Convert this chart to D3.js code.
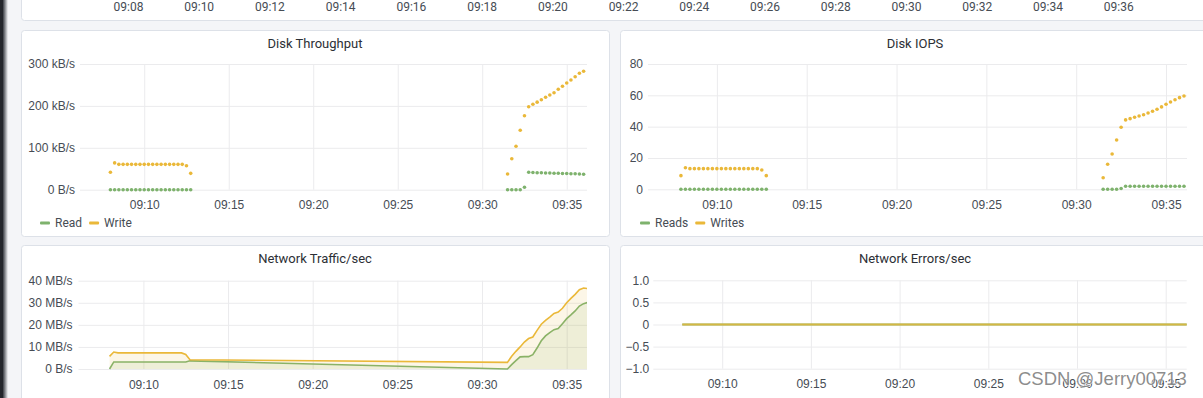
<!DOCTYPE html>
<html>
<head>
<meta charset="utf-8">
<script src="https://cdn.jsdelivr.net/npm/d3@7"></script>
<style>
    body { margin: 0; background: #f4f5f8; overflow: hidden; }
    svg { display: block; font-family: Roboto, 'Noto Sans', sans-serif; }
</style>
</head>
<body>
<div id="chart"></div>
<script>
'use strict';

// 上部パネルの時刻ラベル
const topTicks = ['09:08', '09:10', '09:12', '09:14', '09:16', '09:18', '09:20', '09:22',
    '09:24', '09:26', '09:28', '09:30', '09:32', '09:34', '09:36'];

// 15秒ごとのサンプル時刻
const earlyTimes = ['09:08:00', '09:08:15', '09:08:30', '09:08:45', '09:09:00', '09:09:15',
    '09:09:30', '09:09:45', '09:10:00', '09:10:15', '09:10:30', '09:10:45', '09:11:00',
    '09:11:15', '09:11:30', '09:11:45', '09:12:00', '09:12:15', '09:12:30', '09:12:45'];
const lateTimes = ['09:31:30', '09:31:45', '09:32:00', '09:32:15', '09:32:30', '09:32:45',
    '09:33:00', '09:33:15', '09:33:30', '09:33:45', '09:34:00', '09:34:15', '09:34:30',
    '09:34:45', '09:35:00', '09:35:15', '09:35:30', '09:35:45', '09:36:00'];
const netLateTimes = lateTimes.concat(['09:36:15']);
const errTimes = ['09:07:45', '09:12:45', '09:31:30', '09:36:15'];

// Disk Throughput (kB/s)
const tpRead = [0, 0, 0, 0, 0, 0, 0, 0, 0, 0, 0, 0, 0, 0, 0, 0, 0, 0, 0, 0,
    0, 0, 0, 0, 6, 41.5, 41, 40.6, 40.3, 40, 39.7, 39.4, 39.1, 38.8, 38.5, 38.2, 37.9, 37.5, 37];
const tpWrite = [41.5, 64, 60.5, 60.5, 60.5, 60.5, 60.5, 60.5, 60.5, 60.5, 60.5, 60.5, 60.5, 60.5,
    60.5, 60.5, 60.5, 60.5, 57, 39,
    37.5, 74, 103.6, 141.8, 176.6, 198, 203.8, 209, 214.8, 220.5, 226, 231.5, 239.6, 246.8,
    254.7, 261.8, 269.7, 277.8, 282.6];

// Disk IOPS
const iopsReads = [0, 0, 0, 0, 0, 0, 0, 0, 0, 0, 0, 0, 0, 0, 0, 0, 0, 0, 0, 0,
    0, 0, 0, 0, 0.5, 1.9, 1.9, 1.9, 1.9, 1.9, 1.9, 1.9, 1.9, 1.9, 1.9, 1.9, 1.9, 1.9, 1.9];
const iopsWrites = [8.7, 13.8, 13.2, 13.2, 13.2, 13.2, 13.2, 13.2, 13.2, 13.2, 13.2, 13.2, 13.2, 13.2,
    13.2, 13.2, 13.2, 13.2, 12.3, 8.7,
    7.4, 16, 22.5, 31.5, 39.6, 44.3, 45.1, 46, 46.8, 47.6, 48.7, 49.8, 51.1, 52.6, 54.3, 55.7,
    57.2, 58.5, 59.6];

// Network Traffic/sec (MB/s)
const netRecv = [0, 3.2, 3.2, 3.2, 3.2, 3.2, 3.2, 3.2, 3.2, 3.2, 3.2, 3.2, 3.2, 3.2, 3.2, 3.2,
    3.2, 3.2, 3.2, 3.7,
    0, 2, 3.8, 5.5, 5.6, 5.6, 6.5, 9.5, 12.8, 15, 16.5, 17.8, 18.3, 20.5, 22.8, 24.5, 26.3,
    28.5, 29.6, 30.2];
const netSent = [5.7, 7.7, 7.3, 7.3, 7.3, 7.3, 7.3, 7.3, 7.3, 7.3, 7.3, 7.3, 7.3, 7.3, 7.3, 7.3,
    7.3, 7.3, 6.6, 4.2,
    3.0, 5.8, 8, 10, 12.2, 13.8, 14.5, 17.5, 20.3, 22, 23.5, 25.2, 25.8, 27.5, 30, 32, 33.8,
    35.9, 36.7, 36.4];

// Network Errors/sec
const errRecv = [0, 0, 0, 0];
const errSent = [0, 0, 0, 0];

// 軸目盛り
const xTicks = ['09:10', '09:15', '09:20', '09:25', '09:30', '09:35'];
const tpTicks = [0, 100, 200, 300];
const iopsTicks = [0, 20, 40, 60, 80];
const netTicks = [0, 10, 20, 30, 40];
const errTicks = [-1, -0.5, 0, 0.5, 1];

const W = 1203;
const H = 398;
const GREEN = '#7eb26d';
const YELLOW = '#eab839';
const TEXT = '#464c54';
const GRID = '#ebebed';

const parseT = d3.timeParse('%H:%M:%S');
const parseHM = d3.timeParse('%H:%M');
const fmtHM = d3.timeFormat('%H:%M');

const svg = d3.select('#chart').append('svg')
    .attr('width', W)
    .attr('height', H);

// 左端の暗い帯
const defs = svg.append('defs');
const grad = defs.append('linearGradient').attr('id', 'edge');
grad.append('stop').attr('offset', 0).attr('stop-color', '#3a3d44');
grad.append('stop').attr('offset', 1).attr('stop-color', '#f4f5f8');
svg.append('rect').attr('width', 3).attr('height', H).attr('fill', '#24262c');
svg.append('rect').attr('x', 3).attr('width', 5).attr('height', H).attr('fill', 'url(#edge)');

const panelRect = (x, y, w, h) => {
    svg.append('rect')
        .attr('x', x + 0.5).attr('y', y + 0.5)
        .attr('width', w).attr('height', h)
        .attr('rx', 3)
        .attr('fill', '#fff')
        .attr('stroke', '#dde1e8');
};

// 上部パネル（時刻のみ）
panelRect(21, -10, 1200, 30);
const topX = d3.scaleTime()
    .domain([parseT('09:04:56'), parseT('09:38:23')])
    .range([20, 1203]);
svg.append('g')
    .selectAll('text')
    .data(topTicks)
    .enter()
    .append('text')
    .attr('x', d => topX(parseHM(d)))
    .attr('y', 7)
    .attr('dy', '0.35em')
    .attr('text-anchor', 'middle')
    .attr('font-size', 12)
    .attr('fill', TEXT)
    .text(d => d);

let clipId = 0;
const drawPanel = opt => {
    panelRect(opt.box[0], opt.box[1], opt.box[2], opt.box[3]);
    const [px0, px1, py0, py1] = opt.plot;
    const x = d3.scaleTime()
        .domain(opt.xDomain.map(parseT))
        .range([px0, px1]);
    const y = d3.scaleLinear()
        .domain(d3.extent(opt.yTicks))
        .range([py1, py0]);

    // タイトル
    svg.append('text')
        .attr('x', opt.box[0] + opt.box[2] / 2 + opt.titleDx)
        .attr('y', opt.titleY)
        .attr('dy', '0.35em')
        .attr('text-anchor', 'middle')
        .attr('font-size', 13)
        .attr('fill', '#2c2f35')
        .text(opt.title);

    // グリッド
    const grid = svg.append('g');
    grid.append('g')
        .attr('transform', `translate(${px0},0)`)
        .call(d3.axisLeft(y).tickValues(opt.yTicks).tickSize(-(px1 - px0)).tickFormat(''))
        .call(g => g.select('.domain').remove())
        .call(g => g.selectAll('line').attr('stroke', GRID));
    grid.append('g')
        .attr('transform', `translate(0,${py1})`)
        .call(d3.axisBottom(x).tickValues(xTicks.map(parseHM)).tickSize(-(py1 - py0)).tickFormat(''))
        .call(g => g.select('.domain').remove())
        .call(g => g.selectAll('line').attr('stroke', GRID));

    // 目盛りラベル
    svg.append('g')
        .attr('transform', `translate(${px0},0)`)
        .call(d3.axisLeft(y).tickValues(opt.yTicks).tickSize(0).tickPadding(opt.yPad).tickFormat(opt.yFormat))
        .call(g => g.select('.domain').remove())
        .call(g => g.selectAll('text').attr('font-size', 12).attr('fill', TEXT).attr('font-family', null));
    svg.append('g')
        .attr('transform', `translate(0,${py1})`)
        .call(d3.axisBottom(x).tickValues(xTicks.map(parseHM)).tickSize(0).tickPadding(opt.xPad).tickFormat(fmtHM))
        .call(g => g.select('.domain').remove())
        .call(g => g.selectAll('text').attr('font-size', 12).attr('fill', TEXT).attr('font-family', null));

    // 描画領域のクリップ
    const cid = 'clip' + (clipId++);
    defs.append('clipPath').attr('id', cid)
        .append('rect')
        .attr('x', px0).attr('y', py0 - 4)
        .attr('width', px1 - px0).attr('height', py1 - py0 + 8);
    const plot = svg.append('g').attr('clip-path', `url(#${cid})`);

    opt.series.forEach(s => {
        const pts = s.times.map((t, i) => ({ t: parseT(t), v: s.values[i] }));
        if (opt.mode === 'points') {
            plot.append('g')
                .selectAll('circle')
                .data(pts)
                .enter()
                .append('circle')
                .attr('cx', d => x(d.t))
                .attr('cy', d => y(d.v))
                .attr('r', 1.8)
                .attr('fill', s.color);
        } else {
            if (opt.fill) {
                plot.append('path')
                    .datum(pts)
                    .attr('d', d3.area().x(d => x(d.t)).y0(y(0)).y1(d => y(d.v)))
                    .attr('fill', s.color)
                    .attr('fill-opacity', 0.12);
            }
            plot.append('path')
                .datum(pts)
                .attr('d', d3.line().x(d => x(d.t)).y(d => y(d.v)))
                .attr('fill', 'none')
                .attr('stroke', s.color)
                .attr('stroke-opacity', s.opacity || 1)
                .attr('stroke-width', opt.lineWidth);
        }
    });

    // 凡例
    if (opt.legendY) {
        let lx = opt.legendX;
        opt.series.forEach(s => {
            svg.append('rect')
                .attr('x', lx).attr('y', opt.legendY - 1.5)
                .attr('width', 10).attr('height', 3)
                .attr('rx', 1)
                .attr('fill', s.color);
            const t = svg.append('text')
                .attr('x', lx + 15)
                .attr('y', opt.legendY)
                .attr('dy', '0.35em')
                .attr('font-size', 12)
                .attr('fill', TEXT)
                .text(s.name);
            lx += 15 + t.node().getComputedTextLength() + 7;
        });
    }
};

drawPanel({
    box: [21, 30, 588, 206],
    title: 'Disk Throughput',
    titleY: 43,
    titleDx: 0,
    plot: [80, 587, 64, 189.7],
    xDomain: ['09:06:12', '09:36:12'],
    yTicks: tpTicks,
    yFormat: d => d === 0 ? '0 B/s' : d + ' kB/s',
    yPad: 5,
    xPad: 11,
    mode: 'points',
    series: [
        { name: 'Read', color: GREEN, times: earlyTimes.concat(lateTimes), values: tpRead },
        { name: 'Write', color: YELLOW, times: earlyTimes.concat(lateTimes), values: tpWrite }
    ],
    legendX: 40,
    legendY: 223
});

drawPanel({
    box: [620, 30, 600, 206],
    title: 'Disk IOPS',
    titleY: 43,
    titleDx: -5,
    plot: [648, 1187, 64, 189.3],
    xDomain: ['09:06:10', '09:36:10'],
    yTicks: iopsTicks,
    yFormat: d => d,
    yPad: 5,
    xPad: 11,
    mode: 'points',
    series: [
        { name: 'Reads', color: GREEN, times: earlyTimes.concat(lateTimes), values: iopsReads },
        { name: 'Writes', color: YELLOW, times: earlyTimes.concat(lateTimes), values: iopsWrites }
    ],
    legendX: 640,
    legendY: 223
});

drawPanel({
    box: [21, 245, 588, 200],
    title: 'Network Traffic/sec',
    titleY: 258.5,
    titleDx: 0,
    plot: [78.5, 587, 280.7, 369],
    xDomain: ['09:06:10', '09:36:12'],
    yTicks: netTicks,
    yFormat: d => d === 0 ? '0 B/s' : d + ' MB/s',
    yPad: 6,
    xPad: 11,
    mode: 'line',
    fill: true,
    lineWidth: 1.6,
    series: [
        { name: 'Receive', color: GREEN, times: earlyTimes.concat(netLateTimes), values: netRecv },
        { name: 'Transmit', color: YELLOW, times: earlyTimes.concat(netLateTimes), values: netSent }
    ]
});

drawPanel({
    box: [620, 245, 600, 200],
    title: 'Network Errors/sec',
    titleY: 258.5,
    titleDx: -5,
    plot: [653.3, 1186.7, 280.3, 368.7],
    xDomain: ['09:06:07', '09:36:11'],
    yTicks: errTicks,
    yFormat: d => d === 0 ? '0' : d3.format('.1f')(d),
    yPad: 4,
    xPad: 11,
    mode: 'line',
    lineWidth: 2.2,
    series: [
        { name: 'Receive errors', color: GREEN, times: errTimes, values: errRecv },
        { name: 'Transmit errors', color: YELLOW, times: errTimes, values: errSent, opacity: 0.8 }
    ]
});

// 透かし（元画像でも目盛りラベルに重なっている）
svg.append('text')
    .attr('x', 1018)
    .attr('y', 384.5)
    .attr('font-family', 'Liberation Sans, Arial, sans-serif')
    .attr('font-size', 18.5)
    .attr('fill', 'rgba(120,120,120,0.85)')
    .attr('stroke', 'rgba(255,255,255,0.7)')
    .attr('stroke-width', 1.5)
    .attr('paint-order', 'stroke')
    .text('CSDN @Jerry00713');
</script>
</body>
</html>
